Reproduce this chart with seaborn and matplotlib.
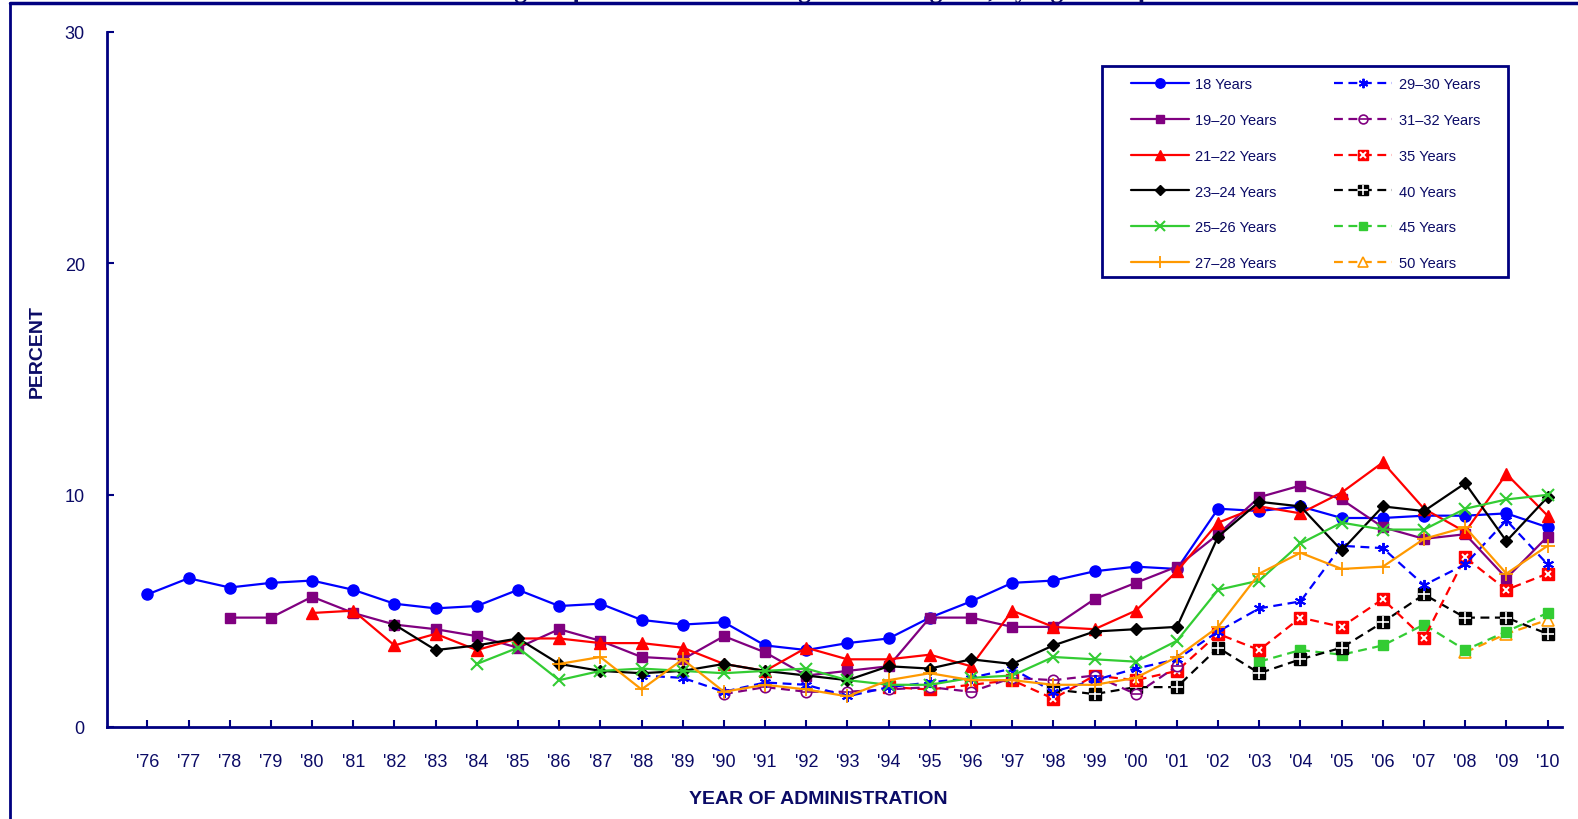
import matplotlib
matplotlib.use("Agg")
import matplotlib.pyplot as plt
from matplotlib.lines import Line2D
from matplotlib.patches import Rectangle
from matplotlib.legend_handler import HandlerLine2D, HandlerTuple
import seaborn as sns

# survey years and tick labels
years = list(range(1976, 2011))
tick_labels = ["'" + str(y)[2:] for y in years]

# percent values, each series starts at its own first year
age_18 = [5.7, 6.4, 6.0, 6.2, 6.3, 5.9, 5.3, 5.1, 5.2, 5.9, 5.2, 5.3, 4.6, 4.4, 4.5, 3.5, 3.3, 3.6,
          3.8, 4.7, 5.4, 6.2, 6.3, 6.7, 6.9, 6.8, 9.4, 9.3, 9.5, 9.0, 9.0, 9.1, 9.1, 9.2, 8.6]
age_19_20 = [4.7, 4.7, 5.6, 4.9, 4.4, 4.2, 3.9, 3.4, 4.2, 3.7, 3.0, 2.9, 3.9, 3.2, 2.2, 2.4, 2.6,
             4.7, 4.7, 4.3, 4.3, 5.5, 6.2, 6.9, 8.3, 9.9, 10.4, 9.8, 8.6, 8.1, 8.3, 6.4, 8.2]
age_21_22 = [4.9, 5.0, 3.5, 4.0, 3.3, 3.8, 3.8, 3.6, 3.6, 3.4, 2.7, 2.4, 3.4, 2.9, 2.9, 3.1,
             2.6, 5.0, 4.3, 4.2, 5.0, 6.7, 8.8, 9.5, 9.2, 10.1, 11.4, 9.4, 8.4, 10.9, 9.1]
age_23_24 = [4.4, 3.3, 3.5, 3.8, 2.7, 2.4, 2.3, 2.4, 2.7, 2.4, 2.2, 2.0, 2.6, 2.5, 2.9, 2.7,
             3.5, 4.1, 4.2, 4.3, 8.2, 9.7, 9.5, 7.6, 9.5, 9.3, 10.5, 8.0, 9.9]
age_25_26 = [2.7, 3.4, 2.0, 2.4, 2.5, 2.4, 2.3, 2.4, 2.5, 2.0, 1.8, 1.8, 2.1, 2.2, 3.0, 2.9,
             2.8, 3.7, 5.9, 6.3, 7.9, 8.8, 8.5, 8.5, 9.4, 9.8, 10.0]
age_27_28 = [2.7, 3.0, 1.6, 2.9, 1.5, 1.8, 1.6, 1.3, 2.0, 2.3, 2.0, 2.0, 1.8, 1.8, 2.1, 3.0,
             4.3, 6.6, 7.5, 6.8, 6.9, 8.1, 8.6, 6.6, 7.8]
age_29_30 = [2.2, 2.1, 1.5, 1.9, 1.8, 1.3, 1.7, 1.9, 2.1, 2.5, 1.5, 2.0, 2.5, 2.9, 4.1, 5.1,
             5.4, 7.8, 7.7, 6.1, 7.0, 8.9, 7.0]
age_31_32 = [1.4, 1.7, 1.5, 1.5, 1.6, 1.7, 1.5, 2.1, 2.0, 2.2, 1.4, 2.6]
age_35 = [1.7, 1.6, 1.8, 2.0, 1.2, 2.2, 2.0, 2.4, 4.0, 3.3, 4.7, 4.3, 5.5, 3.8, 7.3, 5.9, 6.6]
age_40 = [1.6, 1.4, 1.7, 1.7, 3.4, 2.3, 2.9, 3.4, 4.5, 5.7, 4.7, 4.7, 4.0]
age_45 = [2.8, 3.3, 3.1, 3.5, 4.4, 3.3, 4.1, 4.9]
age_50 = [3.2, 4.0, 4.6]

labels = ["18 Years", "19\u201320 Years", "21\u201322 Years", "23\u201324 Years",
          "25\u201326 Years", "27\u201328 Years", "29\u201330 Years", "31\u201332 Years",
          "35 Years", "40 Years", "45 Years", "50 Years"]
series = [age_18, age_19_20, age_21_22, age_23_24, age_25_26, age_27_28,
          age_29_30, age_31_32, age_35, age_40, age_45, age_50]
first_year = [1976, 1978, 1980, 1982, 1984, 1986, 1988, 1990, 1994, 1998, 2003, 2008]

NAVY = "#000080"
TEXT = "#0b0b66"
BLUE, PURPLE, RED, BLACK, GREEN, ORANGE = "#0000ff", "#800080", "#ff0000", "#000000", "#33cc33", "#ff9900"
DASH = (0, (4, 2.5))

# marker style per series; overlay draws a glyph on top of the base marker
styles = {
    "18 Years": dict(color=BLUE, ls="-", marker="o", ms=8, mfc=BLUE, mew=1),
    "19\u201320 Years": dict(color=PURPLE, ls="-", marker="s", ms=7.5, mfc=PURPLE, mew=1),
    "21\u201322 Years": dict(color=RED, ls="-", marker="^", ms=8.5, mfc=RED, mew=1),
    "23\u201324 Years": dict(color=BLACK, ls="-", marker="D", ms=6.5, mfc=BLACK, mew=1),
    "25\u201326 Years": dict(color=GREEN, ls="-", marker="x", ms=8, mfc=GREEN, mew=1.5),
    "27\u201328 Years": dict(color=ORANGE, ls="-", marker="+", ms=10, mfc=ORANGE, mew=1.3),
    "29\u201330 Years": dict(color=BLUE, ls=DASH, marker=(6, 2, 0), ms=8, mfc=BLUE, mew=1.4),
    "31\u201332 Years": dict(color=PURPLE, ls=DASH, marker="o", ms=7.5, mfc="white", mew=1.2,
                            overlay=dict(marker="_", color=PURPLE, ms=7, mew=1.2)),
    "35 Years": dict(color=RED, ls=DASH, marker="s", ms=8, mfc=RED, mew=1,
                     overlay=dict(marker="x", color="white", ms=5, mew=1.4)),
    "40 Years": dict(color=BLACK, ls=DASH, marker="s", ms=8, mfc=BLACK, mew=1,
                     overlay=dict(marker="+", color="white", ms=8, mew=1.2)),
    "45 Years": dict(color=GREEN, ls=DASH, marker="s", ms=7, mfc=GREEN, mew=1),
    "50 Years": dict(color=ORANGE, ls=DASH, marker="^", ms=8, mfc="white", mew=1.2),
}

sns.set_theme(style="white")
plt.rcParams["font.family"] = ["Liberation Sans", "DejaVu Sans"]

fig = plt.figure(figsize=(15.78, 8.2), dpi=100)
ax = fig.add_axes([107 / 1578, 1 - 727.5 / 820, (1562 - 107) / 1578, 695 / 820])

# dashed (older ages) first, then solid ones on top
draw_order = list(range(11, 5, -1)) + list(range(0, 6))
handles = {}
for i in draw_order:
    lab, vals, start = labels[i], series[i], first_year[i]
    st = styles[lab]
    yrs = list(range(start, start + len(vals)))
    sns.lineplot(x=yrs, y=vals, ax=ax, color=st["color"], linestyle=st["ls"], linewidth=1.6,
                 marker=st["marker"], markersize=st["ms"], markerfacecolor=st["mfc"],
                 markeredgecolor=st["color"], markeredgewidth=st["mew"])
    h = Line2D([], [], color=st["color"], linestyle=st["ls"], linewidth=1.6, marker=st["marker"],
               markersize=st["ms"] * 0.85, markerfacecolor=st["mfc"],
               markeredgecolor=st["color"], markeredgewidth=st["mew"])
    ov = st.get("overlay")
    if ov:
        ax.plot(yrs, vals, linestyle="none", marker=ov["marker"], color=ov["color"],
                markersize=ov["ms"], markeredgewidth=ov["mew"])
        h2 = Line2D([], [], linestyle="none", marker=ov["marker"], color=ov["color"],
                    markersize=ov["ms"] * 0.85, markeredgewidth=ov["mew"])
        h = (h, h2)
    handles[lab] = h

ax.set_xlim(1975.02, 2010.35)
ax.set_ylim(0, 30)
ax.set_xticks(years)
ax.set_xticklabels(tick_labels)
ax.set_yticks([0, 10, 20, 30])

for side in ["top", "right"]:
    ax.spines[side].set_visible(False)
for side in ["left", "bottom"]:
    ax.spines[side].set_color(NAVY)
    ax.spines[side].set_linewidth(2)

ax.tick_params(axis="x", direction="in", length=5, width=1.5, color=NAVY, pad=19,
               labelsize=13, labelcolor=TEXT)
ax.tick_params(axis="y", direction="in", length=5, width=1.5, color=NAVY, pad=16,
               labelsize=13, labelcolor=TEXT)
ax.tick_params(bottom=True, left=True)

ax.set_xlabel("YEAR OF ADMINISTRATION", fontsize=14, fontweight="bold", color=TEXT, va="center")
ax.xaxis.set_label_coords((818 - 107) / 1455, (727.5 - 800) / 695)
ax.set_ylabel("PERCENT", fontsize=14, fontweight="bold", color=TEXT, va="center")
ax.yaxis.set_label_coords((37 - 107) / 1455, (727.5 - 352) / 695)

XPAD = 1.25
leg = ax.legend([handles[l] for l in labels], labels, ncol=2, loc="upper left",
                bbox_to_anchor=(1102 / 1578, 1 - 67 / 820), bbox_transform=fig.transFigure,
                borderaxespad=0, fontsize=10.5, labelcolor=TEXT, handlelength=5.2,
                handletextpad=0.45, columnspacing=2.7, labelspacing=1.5, borderpad=0.75,
                frameon=False, numpoints=1,
                handler_map={Line2D: HandlerLine2D(xpad=XPAD),
                             tuple: HandlerTuple(ndivide=1, xpad=XPAD)})
leg.set_zorder(6)
# legend box, wider on the right than matplotlib's own frame
ax.add_patch(Rectangle((1101.5 / 1578, 1 - 278 / 820), 406.5 / 1578, 211 / 820,
                       transform=fig.transFigure, facecolor="white", edgecolor=NAVY,
                       linewidth=2, zorder=5, clip_on=False))

# page frame and the title line that is cut at the top edge
fig.add_artist(Line2D([10 / 1578, 1], [1 - 4 / 820] * 2, transform=fig.transFigure,
                      color=NAVY, linewidth=2.5))
fig.add_artist(Line2D([10 / 1578] * 2, [0, 1 - 4 / 820], transform=fig.transFigure,
                      color=NAVY, linewidth=2))
fig.text(0.509, 1 + 2 / 820, "among Respondents of Modal Ages 18 through 50, by Age Group",
         ha="center", va="baseline", fontsize=18.2, fontweight="bold", color=TEXT,
         family=["Liberation Serif", "DejaVu Serif"])

fig.savefig("out.png", dpi=100)
